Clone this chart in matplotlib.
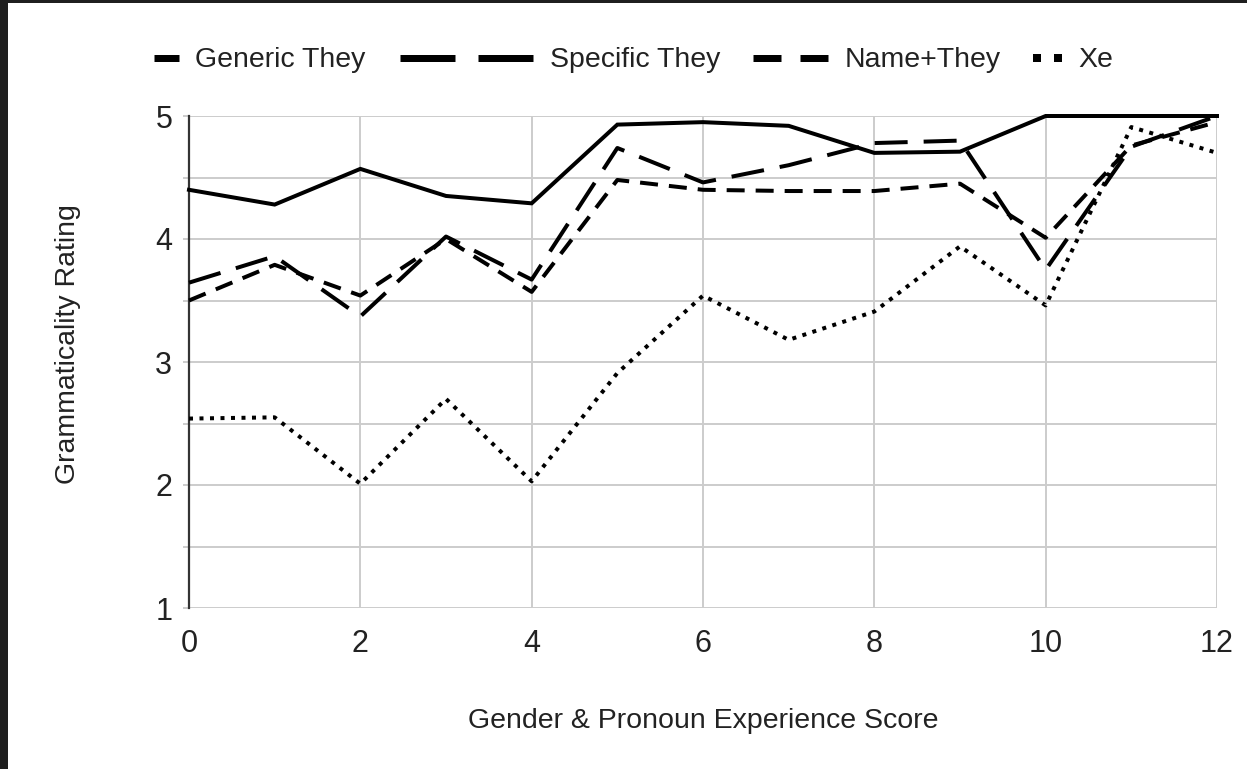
import matplotlib
matplotlib.use('Agg')
import matplotlib.pyplot as plt
from matplotlib.lines import Line2D
from matplotlib.patches import Rectangle
from matplotlib.ticker import MultipleLocator

# ---------------- data ----------------
scores = [0, 1, 2, 3, 4, 5, 6, 7, 8, 9, 10, 11, 12]
generic_they = [4.40, 4.28, 4.57, 4.35, 4.29, 4.93, 4.95, 4.92, 4.70, 4.71, 5.00, 5.00, 5.00]
specific_they = [3.645, 3.86, 3.37, 4.02, 3.67, 4.74, 4.46, 4.60, 4.78, 4.80, 3.75, 4.75, 5.00]
name_they = [3.50, 3.79, 3.54, 4.00, 3.57, 4.48, 4.40, 4.39, 4.39, 4.45, 4.01, 4.76, 4.95]
xe = [2.54, 2.55, 2.01, 2.70, 2.03, 2.91, 3.54, 3.18, 3.41, 3.94, 3.46, 4.91, 4.70]
series_names = ["Generic They", "Specific They", "Name+They", "Xe"]
x_label = "Gender & Pronoun Experience Score"
y_label = "Grammaticality Rating"

# ---------------- style ----------------
plt.rcParams['font.family'] = ['Liberation Sans', 'DejaVu Sans']
plt.rcParams['lines.scale_dashes'] = False
TXT = '#222222'
W, H = 1247, 769
PT = 72 / 100.0  # points per pixel at dpi 100

fig = plt.figure(figsize=(W / 100, H / 100), dpi=100)
fig.patch.set_facecolor('white')
ax = fig.add_axes([189 / W, 1 - 608 / H, 1028 / W, 492 / H])

lw = 4 * PT
ax.plot(scores, generic_they, color='black', lw=lw, solid_joinstyle='miter',
        clip_on=False, zorder=5)
ax.plot(scores, specific_they, color='black', lw=lw, dashes=(33 * PT, 16 * PT),
        clip_on=False, zorder=4)
ax.plot(scores, name_they, color='black', lw=lw, dashes=(18 * PT, 11 * PT),
        clip_on=False, zorder=4)
ax.plot(scores, xe, color='black', lw=lw, dashes=(4 * PT, 6.5 * PT),
        clip_on=False, zorder=4)

ax.set_xlim(0, 12)
ax.set_ylim(1, 5)
ax.xaxis.set_major_locator(MultipleLocator(2))
ax.yaxis.set_major_locator(MultipleLocator(1))
ax.yaxis.set_minor_locator(MultipleLocator(0.5))
ax.grid(which='both', color='#cccccc', lw=1.4)
ax.set_axisbelow(True)
ax.tick_params(axis='x', length=0, pad=15, labelsize=22, labelcolor=TXT)
ax.tick_params(axis='y', which='both', length=4, width=1.4, color='#cccccc',
               pad=8, labelsize=22, labelcolor=TXT)
for s in ['top', 'right', 'bottom']:
    ax.spines[s].set_visible(False)
ax.spines['left'].set_color('#333333')
ax.spines['left'].set_linewidth(1.6)

ax.set_xlabel(x_label, fontsize=20.5, color=TXT)
ax.xaxis.label.set_va('baseline')
ax.xaxis.set_label_coords(0.5, (608 - 728) / 492)
ax.set_ylabel(y_label, fontsize=20.5, color=TXT)
ax.yaxis.label.set_va('center')
ax.yaxis.set_label_coords((67.5 - 189) / 1028, (608 - 344) / 492)

# ---------------- legend (drawn by hand, Sheets-style icons) ----------------
def fx(p):
    return p / W

def fy(p):
    return 1 - p / H

legend_items = [
    (series_names[0], (154, 179), None, 7, 195),
    (series_names[1], (400, 533), (55, 23), 7, 550),
    (series_names[2], (753, 828), (28, 19), 7, 845),
    (series_names[3], (1033, 1062), (8, 13), 8, 1078),
]
for name, (x0, x1), dash, thick, tx in legend_items:
    ln = Line2D([fx(x0), fx(x1)], [fy(58), fy(58)], transform=fig.transFigure,
                color='black', lw=thick * PT, solid_capstyle='butt',
                dash_capstyle='butt')
    if dash is not None:
        ln.set_dashes((dash[0] * PT, dash[1] * PT))
    fig.add_artist(ln)
    fig.text(fx(tx), fy(67), name, fontsize=20.5, color=TXT, ha='left', va='baseline')

# dark frame edges from the screenshot
fig.add_artist(Rectangle((0, 0), 8 / W, 1, transform=fig.transFigure,
                         color='#1f1f1f', lw=0))
fig.add_artist(Rectangle((0, 1 - 3 / H), 1, 3 / H, transform=fig.transFigure,
                         color='#1f1f1f', lw=0))

fig.savefig('out.png', dpi=100)
